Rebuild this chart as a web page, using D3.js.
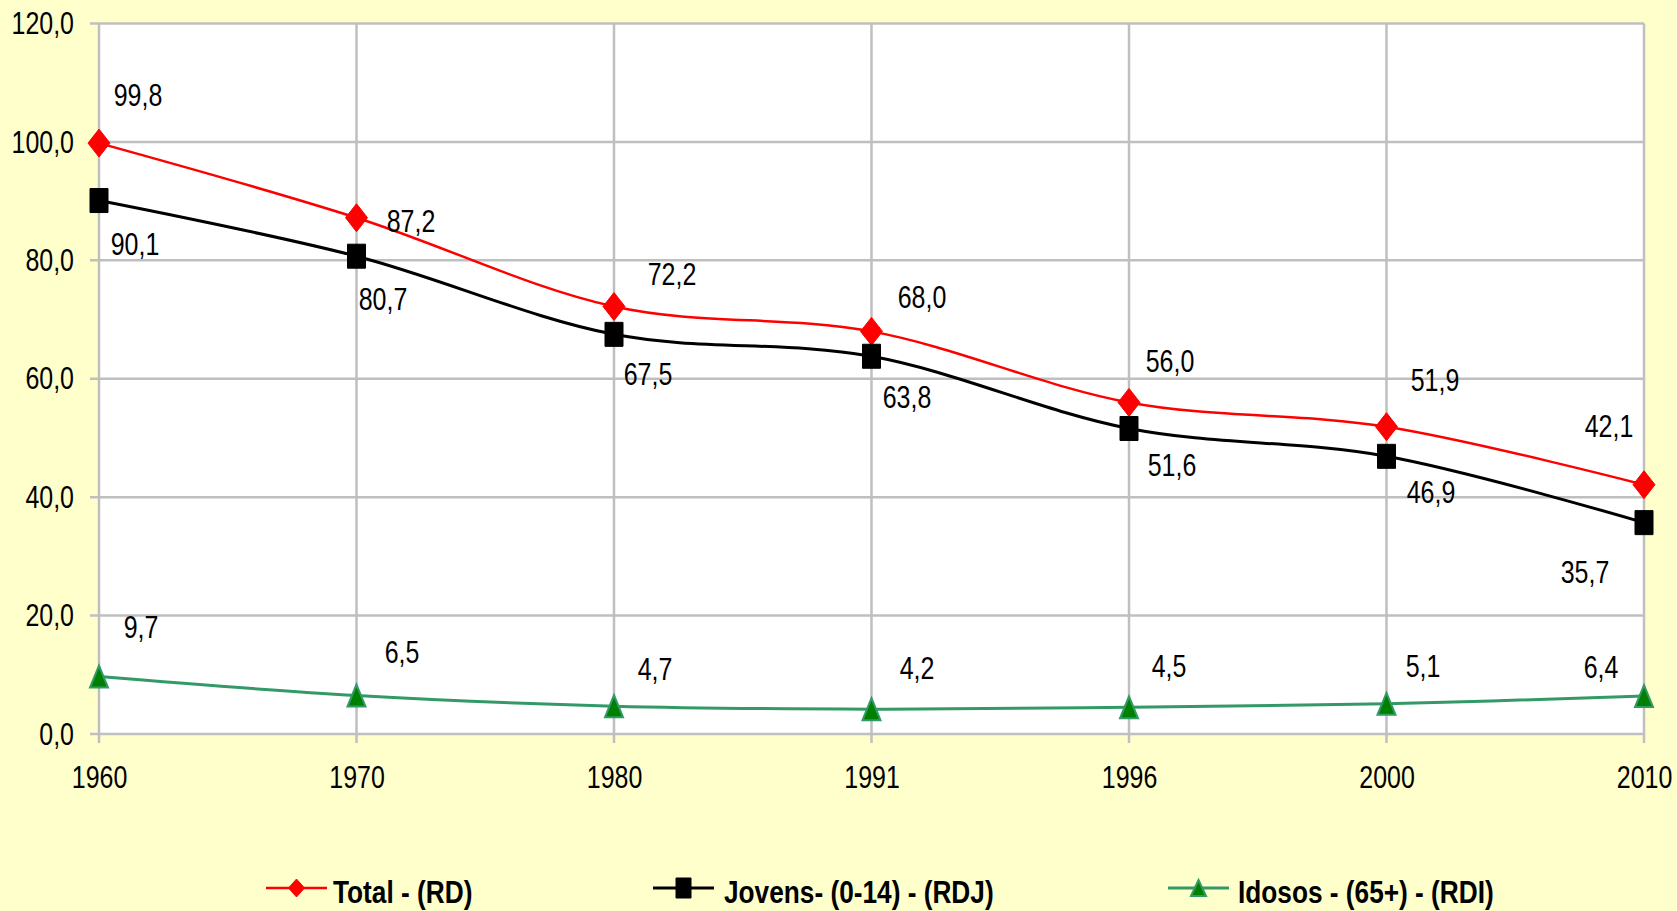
<!DOCTYPE html>
<html>
<head>
<meta charset="utf-8">
<script src="https://cdn.jsdelivr.net/npm/d3@7"></script>
<style>
  html, body { margin: 0; padding: 0; background: #FFFFCC; }
  svg { display: block; }
  text { font-family: "Liberation Sans Narrow", "Arial Narrow", "Liberation Sans", sans-serif; fill: #000; }
</style>
</head>
<body>
<svg id="chart" width="1677" height="911"></svg>
<script>
// Razão de dependência por ano censitário
const years = ["1960", "1970", "1980", "1991", "1996", "2000", "2010"];
const total = [99.8, 87.2, 72.2, 68.0, 56.0, 51.9, 42.1];
const jovens = [90.1, 80.7, 67.5, 63.8, 51.6, 46.9, 35.7];
const idosos = [9.7, 6.5, 4.7, 4.2, 4.5, 5.1, 6.4];
const yTicks = [0, 20, 40, 60, 80, 100, 120];
const seriesNames = ["Total - (RD)", "Jovens- (0-14) - (RDJ)", "Idosos - (65+) - (RDI)"];

// Deslocamento de cada rótulo de valor em relação ao seu marcador (px)
const labelOffsets = [
  { dx: [39, 54.5, 58, 50.5, 41, 48.5, -35], dy: [-48, 3, -32.5, -34.5, -41.5, -46.5, -58.5] },
  { dx: [36, 26.5, 34, 35.5, 43, 44.5, -59], dy: [43.5, 43, 39.5, 41, 36.5, 35.5, 49.5] },
  { dx: [42, 45.5, 41, 45.5, 40, 36.5, -43], dy: [-49.5, -43.5, -37, -41, -41.5, -38, -29] }
];

const series = [
  { name: seriesNames[0], values: total, color: "#FF0000", width: 2.5, marker: "diamond", fill: "#FF0000", stroke: "#FF0000" },
  { name: seriesNames[1], values: jovens, color: "#000000", width: 3, marker: "square", fill: "#000000", stroke: "#000000" },
  { name: seriesNames[2], values: idosos, color: "#339966", width: 3, marker: "triangle", fill: "#008000", stroke: "#339966" }
];

(function draw() {
  const svg = d3.select("#chart");
  const plotL = 99, plotR = 1644, plotT = 23.5, plotB = 734;
  const labelSize = 32;

  const x = d3.scalePoint().domain(years).range([plotL, plotR]);
  const y = d3.scaleLinear().domain([0, 120]).range([plotB, plotT]);

  const ptBR = d3.formatLocale({ decimal: ",", thousands: ".", grouping: [3], currency: ["R$", ""] });
  const fmt = ptBR.format(".1f");

  // Posiciona textos por transform para aplicar a compressão horizontal (fonte estreita)
  function condense(sel, k) {
    sel.each(function () {
      const t = d3.select(this);
      const tx = +t.attr("x") || 0, ty = +t.attr("y") || 0;
      const prev = t.attr("transform") || "";
      t.attr("x", 0).attr("y", 0)
        .attr("transform", `${prev} translate(${tx},${ty}) scale(${k},1)`);
    });
  }

  // Área de plotagem
  svg.append("rect")
    .attr("x", plotL).attr("y", plotT)
    .attr("width", plotR - plotL).attr("height", plotB - plotT)
    .attr("fill", "#FFFFFF");

  const gridColor = "#BFBFBF";

  // Linhas de grade horizontais
  svg.append("g").selectAll("line").data(yTicks).join("line")
    .attr("x1", plotL - 9).attr("x2", plotR)
    .attr("y1", d => y(d)).attr("y2", d => y(d))
    .attr("stroke", gridColor).attr("stroke-width", 2.5);

  // Linhas de grade verticais
  svg.append("g").selectAll("line").data(years).join("line")
    .attr("x1", d => x(d)).attr("x2", d => x(d))
    .attr("y1", plotT).attr("y2", plotB + 9)
    .attr("stroke", gridColor).attr("stroke-width", 2.5);

  // Eixo Y
  const yAxis = svg.append("g")
    .attr("transform", `translate(${plotL},0)`)
    .call(d3.axisLeft(y).tickValues(yTicks).tickFormat(fmt).tickSize(0).tickPadding(25));
  yAxis.select(".domain").remove();
  yAxis.attr("font-family", null).attr("font-size", null);
  yAxis.selectAll("text").attr("font-size", labelSize).call(condense, 0.78);

  // Eixo X
  const xAxis = svg.append("g")
    .attr("transform", `translate(0,${plotB})`)
    .call(d3.axisBottom(x).tickSize(0).tickPadding(31));
  xAxis.select(".domain").remove();
  xAxis.attr("font-family", null).attr("font-size", null);
  xAxis.selectAll("text").attr("font-size", labelSize).call(condense, 0.78);

  // Símbolos dos marcadores (largura w, altura h)
  function markerPath(type, w, h) {
    const a = w / 2, b = h / 2;
    if (type === "diamond") return `M0,${-b}L${a},0L0,${b}L${-a},0Z`;
    if (type === "square") return `M${-a},${-b}H${a}V${b}H${-a}Z`;
    return `M0,${-b}L${a},${b}L${-a},${b}Z`;
  }
  const markerSize = { diamond: [22, 28], square: [18, 24], triangle: [18, 22] };

  const line = d3.line()
    .x((d, i) => x(years[i]))
    .y(d => y(d))
    .curve(d3.curveCardinal.tension(0));

  series.forEach((s, si) => {
    const g = svg.append("g");
    g.append("path")
      .attr("d", line(s.values))
      .attr("fill", "none")
      .attr("stroke", s.color)
      .attr("stroke-width", s.width);
    const [mw, mh] = markerSize[s.marker];
    g.selectAll("path.m").data(s.values).join("path")
      .attr("class", "m")
      .attr("d", markerPath(s.marker, mw, mh))
      .attr("transform", (d, i) => `translate(${x(years[i])},${y(d)})`)
      .attr("fill", s.fill)
      .attr("stroke", s.stroke)
      .attr("stroke-width", s.marker === "triangle" ? 2 : 1);
    g.selectAll("text").data(s.values).join("text")
      .attr("x", (d, i) => x(years[i]) + labelOffsets[si].dx[i])
      .attr("y", (d, i) => y(d) + labelOffsets[si].dy[i])
      .attr("dy", "0.35em")
      .attr("text-anchor", "middle")
      .attr("font-size", labelSize)
      .text(d => fmt(d))
      .call(condense, 0.78);
  });

  // Legenda
  const legendX = [266, 653, 1168];
  const legendTextX = [333, 724, 1238];
  const legendY = 888;
  const legendMarker = { diamond: [16, 18], square: [15, 20], triangle: [15, 16] };
  series.forEach((s, si) => {
    const g = svg.append("g").attr("transform", `translate(${legendX[si]},${legendY})`);
    g.append("line")
      .attr("x1", 0).attr("x2", 61)
      .attr("y1", 0).attr("y2", 0)
      .attr("stroke", s.color).attr("stroke-width", s.width);
    const [mw, mh] = legendMarker[s.marker];
    g.append("path")
      .attr("d", markerPath(s.marker, mw, mh))
      .attr("transform", "translate(30.5,0)")
      .attr("fill", s.fill)
      .attr("stroke", s.stroke)
      .attr("stroke-width", s.marker === "triangle" ? 2 : 1);
    svg.append("text")
      .attr("x", legendTextX[si]).attr("y", legendY + 15)
      .attr("font-size", 32)
      .attr("font-weight", "bold")
      .text(s.name)
      .call(condense, 0.82);
  });
})();
</script>
</body>
</html>
